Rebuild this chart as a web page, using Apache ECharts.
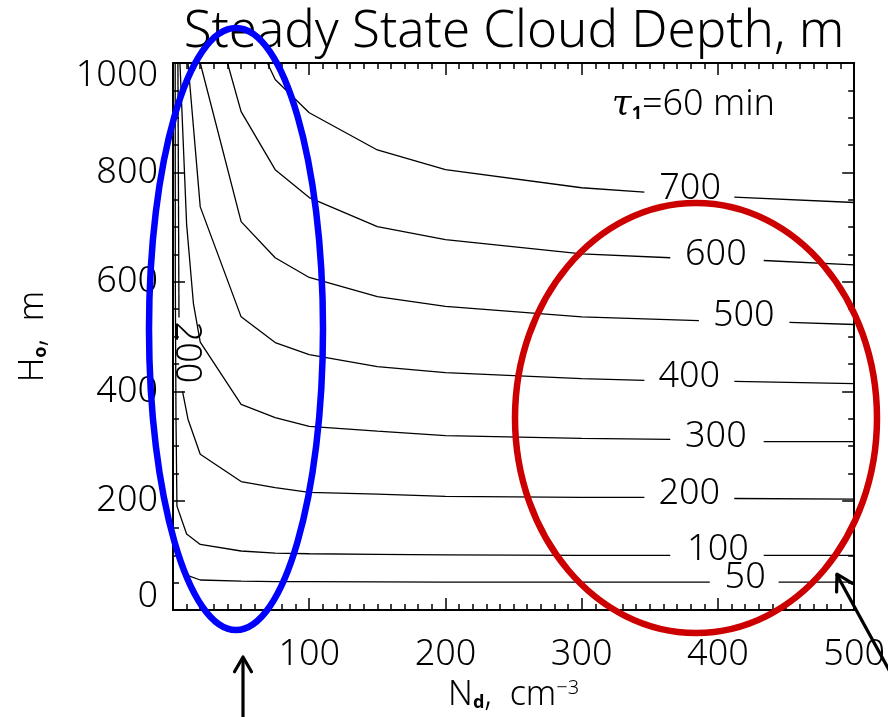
<!DOCTYPE html>
<html>
<head>
<meta charset="utf-8">
<script src="https://cdn.jsdelivr.net/npm/echarts@6/dist/echarts.min.js"></script>
<style>
html,body{margin:0;padding:0;background:#fff;}
#chart{width:888px;height:717px;}
</style>
</head>
<body>
<div id="chart"></div>
<script>
// ---- data (Nd in cm^-3, H0 in m); null marks a gap for a contour label ----
const xTickLabels = [100, 200, 300, 400, 500];
const yTickLabels = [0, 200, 400, 600, 800, 1000];

const c50  = [[1.2,120],[10,64],[20,55],[50,53],[75,52],[100,52],[150,51.5],[200,51],[300,51],[394,51],null,[444.5,51],[500,51]];
const c100 = [[1.6,1000],[1.7,600],[2.2,349],[2.9,190],[10,139],[20,120],[50,108],[75,104],[100,103],[150,102],[200,101],[300,100],[365,100],null,[433.6,100],[500,100]];
const c200 = [[3.6,1000],[4.4,535],null,[7.0,400],[11,349],[20,285],[50,235],[75,224],[100,215],[150,212],[200,208],[300,206],[346,206],null,[412,204],[500,203]];
const c300 = [[5.1,1000],[10,705],[15,560],[20,490],[50,376],[75,352],[100,336],[150,327],[200,319],[300,314],[365,312],null,[433.6,308],[500,308]];
const c400 = [[11,1000],[20,737],[50,536],[75,489],[100,467],[150,445],[200,434],[300,423],[346,420],null,[412,418],[500,414]];
const c500 = [[20,1000],[50,710],[75,644],[100,608],[150,573],[200,555],[300,536],[386,529],null,[452.5,526],[500,522]];
const c600 = [[40,1000],[50,911],[75,805],[100,754],[150,701],[200,677],[300,651],[365,644],null,[433.6,639],[500,631]];
const c700 = [[69.3,1000],[75,970],[100,909],[150,841],[200,805],[300,772],[346,764],null,[412,755],[500,745]];

const contourLabels = [[379.6,770,'700'],[398.5,650,'600'],[419,538,'500'],[379,427,'400'],[398.5,317,'300'],[379,212,'200'],[400,111,'100'],[420,60,'50']];
const rotatedLabel = [10,471,'200'];

// ---- chart ----
const FONT = '"Noto Sans", sans-serif';
const W = 300;
const chart = echarts.init(document.getElementById('chart'), null, {renderer:'canvas'});

const contours = [c50,c100,c200,c300,c400,c500,c600,c700];
const series = [];
contours.forEach(c => {
  let piece = [];
  const flush = () => { if (piece.length) series.push({type:'line', data: piece, showSymbol:false, symbol:'none', silent:true, animation:false, lineStyle:{color:'#000', width:1.3}, z:3}); piece = []; };
  c.forEach(p => { if (p === null) flush(); else piece.push(p); });
  flush();
});
series.push({
  type:'scatter', symbolSize:0, silent:true, animation:false, z:4,
  itemStyle:{opacity:1},
  data: contourLabels.map(d => ({value:d})).concat([{value:rotatedLabel, label:{rotate:-90}}]),
  label:{show:true, position:'inside', opacity:1, formatter: p => p.value[2], color:'#000', fontSize:36, fontFamily:FONT, fontWeight:W}
});

const tickStyle = {color:'#000', width:1.5};
function xAx(pos, labels){
  return {
    type:'value', position:pos, min:0, max:500, interval:100,
    axisLine:{show:true, onZero:false, lineStyle:{color:'#000', width:2}},
    axisTick:{show:true, inside:true, length:12, lineStyle:tickStyle},
    minorTick:{show:true, splitNumber:10, length:6, lineStyle:tickStyle},
    splitLine:{show:false}, minorSplitLine:{show:false},
    axisLabel:{show:labels, margin:27, color:'#000', fontSize:36, fontFamily:FONT, fontWeight:W,
      formatter: v => xTickLabels.indexOf(v) >= 0 ? String(v) : ''}
  };
}
function yAx(pos, labels){
  return {
    type:'value', position:pos, min:0, max:1000, interval:200,
    axisLine:{show:true, onZero:false, lineStyle:{color:'#000', width:2}},
    axisTick:{show:true, inside:true, length:12, lineStyle:tickStyle},
    minorTick:{show:true, splitNumber:4, length:6, lineStyle:tickStyle},
    splitLine:{show:false}, minorSplitLine:{show:false},
    axisLabel:{show:labels, margin:15, color:'#000', fontSize:36, lineHeight:26, fontFamily:FONT, fontWeight:W,
      verticalAlignMinLabel:'bottom', verticalAlignMaxLabel:'top',
      formatter: v => yTickLabels.indexOf(v) >= 0 ? String(v) : ''}
  };
}
const xb = xAx('bottom', true);
xb.name = '{a|N}{s|d}{a|,  cm}{p|−3}';
xb.nameLocation = 'middle';
xb.nameGap = 54;
xb.nameTextStyle = {color:'#000', fontFamily:FONT, fontWeight:W, rich:{
  a:{fontSize:34, fontFamily:FONT, fontWeight:W, color:'#000'},
  s:{fontSize:18, fontFamily:FONT, fontWeight:'bold', color:'#000', verticalAlign:'bottom'},
  p:{fontSize:20, fontFamily:FONT, fontWeight:W, color:'#000', verticalAlign:'top'}
}};
const yl = yAx('left', true);
yl.name = '{a|H}{s|o}{a|,  m}';
yl.nameLocation = 'middle';
yl.nameRotate = 90;
yl.nameGap = 123;
yl.nameTextStyle = {color:'#000', fontFamily:FONT, fontWeight:W, rich:{
  a:{fontSize:34, fontFamily:FONT, fontWeight:W, color:'#000'},
  s:{fontSize:18, fontFamily:FONT, fontWeight:'bold', color:'#000', verticalAlign:'bottom'}
}};

// annotation arrow heads
function arrowHead(tip, tail, len, ang){
  const dx = tail[0]-tip[0], dy = tail[1]-tip[1], L = Math.hypot(dx,dy);
  const ux = dx/L, uy = dy/L, a = ang*Math.PI/180;
  const r = s => [tip[0] + len*(ux*Math.cos(s*a) - uy*Math.sin(s*a)), tip[1] + len*(ux*Math.sin(s*a) + uy*Math.cos(s*a))];
  return [r(1), tip, r(-1)];
}
const arrowStyle = {stroke:'#000', lineWidth:3.2, fill:null, lineCap:'round', lineJoin:'round'};

chart.setOption({
  animation:false,
  backgroundColor:'#fff',
  grid:{left:173, right:30, top:63, bottom:106, containLabel:false},
  xAxis:[xb, xAx('top', false)],
  yAxis:[yl, yAx('right', false)],
  series: series,
  graphic:[
    {type:'text', z:10, style:{text:'Steady State Cloud Depth, m', x:514, y:32, align:'center', verticalAlign:'middle',
      font:`${W} 51px ${FONT}`, fill:'#000'}},
    {type:'text', z:10, style:{text:'{t|τ}{s|1}{a|=60 min}', x:775, y:105, align:'right', verticalAlign:'middle',
      rich:{t:{fontSize:36, fontFamily:'"DejaVu Serif", serif', fontStyle:'italic', fill:'#000'},
            s:{fontSize:18, fontFamily:FONT, fontWeight:'bold', fill:'#000', verticalAlign:'bottom'},
            a:{fontSize:36, fontFamily:FONT, fontWeight:W, fill:'#000'}}}},
    {type:'ellipse', z:50, shape:{cx:236, cy:329, rx:87, ry:301}, style:{fill:null, stroke:'#0000ff', lineWidth:6.5}},
    {type:'ellipse', z:50, shape:{cx:696, cy:418, rx:181, ry:215}, style:{fill:null, stroke:'#cc0000', lineWidth:6.5}},
    {type:'polyline', z:60, shape:{points:[[243,720],[243,658]]}, style:arrowStyle},
    {type:'polyline', z:60, shape:{points:arrowHead([243,657],[243,720],17,30)}, style:arrowStyle},
    {type:'polyline', z:60, shape:{points:[[837,575],[895,681]]}, style:arrowStyle},
    {type:'polyline', z:60, shape:{points:arrowHead([837,574],[895,680],18,30)}, style:arrowStyle}
  ]
});
</script>
</body>
</html>
